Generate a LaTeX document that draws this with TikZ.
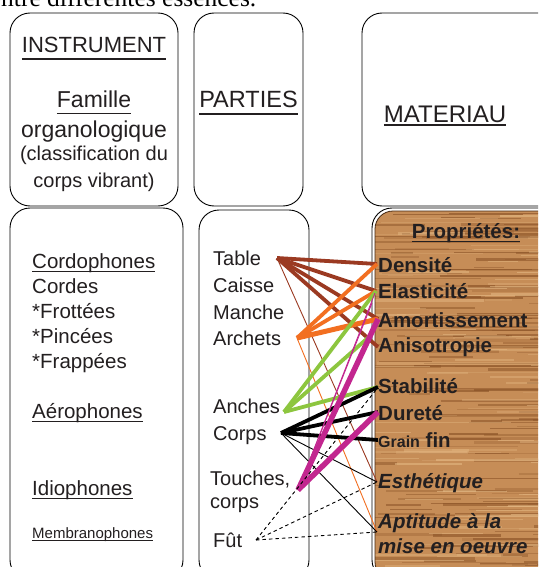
\documentclass[tikz,border=0pt]{standalone}
\usepackage{fontspec}
\setmainfont{Liberation Sans}
\newfontfamily\seriffont{Liberation Serif}
\definecolor{ink}{HTML}{231F20}
\definecolor{cbrown}{HTML}{9B3A22}
\definecolor{corange}{HTML}{F26F21}
\definecolor{cgreen}{HTML}{8DC63F}
\definecolor{cmag}{HTML}{C2268F}
\definecolor{woodbase}{HTML}{C68D57}
\definecolor{wooddark}{HTML}{8A5226}
\definecolor{woodlight}{HTML}{E6BB86}
\newsavebox\ulbox
\newcommand\myul[2][0.25em]{\sbox\ulbox{#2}\rlap{\rule[-#1]{\wd\ulbox}{1.3pt}}\usebox\ulbox}
\newcommand\fs[1]{\fontsize{#1}{#1}\selectfont}
\begin{document}
\begin{tikzpicture}[x=1pt,y=-1pt,
  txt/.style={anchor=base west, inner sep=0pt, text=ink, font=\fs{20}},
  ctxt/.style={anchor=base, inner sep=0pt, text=ink},
  prop/.style={anchor=base west, inner sep=0pt, text=ink, font=\fs{20.5}\bfseries},
  boxline/.style={draw=black, line width=0.9pt, rounded corners=20pt},
  thickl/.style={line width=3.8pt},
  thinl/.style={line width=0.9pt},
  dashl/.style={line width=0.9pt, dash pattern=on 3.5pt off 3pt}]
\useasboundingbox (0,0) rectangle (538,567);
\clip (0,0) rectangle (538,567);
\fill[white] (0,0) rectangle (538,567);

% caption fragment
\node[anchor=base west, inner sep=0pt, font=\seriffont\fs{25.5}] (cap) at (-10.3,7) {entre différentes essences.};

% top boxes
\draw[boxline] (10,13) rectangle (178,206);
\draw[boxline] (194,13) rectangle (303,206);
\draw[boxline] (362,13) rectangle (560,206);
% bottom boxes
\draw[boxline] (10,208) rectangle (183,580);
\draw[boxline] (199,210) rectangle (309,580);
\draw[boxline] (372,208) rectangle (560,580);

% wood texture
\begin{scope}
\clip[rounded corners=18pt] (375,211) rectangle (560,580);
\fill[woodbase] (370,205) rectangle (560,580);
\pgfmathsetseed{12}
\foreach \i in {1,...,170}{
  \pgfmathsetmacro\yy{211+365*rnd}
  \pgfmathsetmacro\xx{350+200*rnd}
  \pgfmathsetmacro\ll{20+150*rnd}
  \pgfmathsetmacro\ww{0.4+2.4*rnd}
  \pgfmathsetmacro\oo{0.2+0.45*rnd}
  \draw[wooddark, opacity=\oo, line width=\ww pt] (\xx,\yy) -- ++(\ll,0);
}
\foreach \i in {1,...,120}{
  \pgfmathsetmacro\yy{211+365*rnd}
  \pgfmathsetmacro\xx{350+200*rnd}
  \pgfmathsetmacro\ll{20+150*rnd}
  \pgfmathsetmacro\ww{0.4+2.0*rnd}
  \pgfmathsetmacro\oo{0.2+0.4*rnd}
  \draw[woodlight, opacity=\oo, line width=\ww pt] (\xx,\yy) -- ++(\ll,0);
}
\end{scope}
\draw[wooddark!50!black, line width=0.8pt, rounded corners=18pt] (375,211) rectangle (560,580);

% top texts
\node[ctxt, font=\fs{22}] (instr) at (94,53) {\myul[0.3em]{INSTRUMENT}};
\node[ctxt, font=\fs{23}] (fam) at (94,108) {\myul[0.28em]{Famille}};
\node[ctxt, font=\fs{23}] (org) at (94,137) {organologique};
\node[ctxt, font=\fs{20}] (cla) at (94,160) {(classification du};
\node[ctxt, font=\fs{20}] (cvb) at (94,187) {corps vibrant)};
\node[ctxt, font=\fs{23.5}] (parties) at (248.5,108) {\myul[0.28em]{PARTIES}};
\node[ctxt, font=\fs{24}] (mat) at (445,122) {\myul[0.15em]{MATERIAU}};

% left column
\node[txt, font=\fs{20.5}] (cordo) at (32,268) {\myul[0.2em]{Cordophones}};
\node[txt, font=\fs{20.5}] (cordes) at (32,293) {Cordes};
\node[txt, font=\fs{20.5}] (frot) at (32,318) {*Frottées};
\node[txt, font=\fs{20.5}] (pinc) at (32,343) {*Pincées};
\node[txt, font=\fs{20.5}] (frap) at (32,368) {*Frappées};
\node[txt, font=\fs{20.5}] (aero) at (32,418) {\myul[0.2em]{Aérophones}};
\node[txt, font=\fs{20.5}] (idio) at (32,495) {\myul[0.2em]{Idiophones}};
\node[txt, font=\fs{15}] (membr) at (32,538) {\myul[0.2em]{Membranophones}};

% middle column
\node[txt] (table) at (213,265) {Table};
\node[txt] (caisse) at (213,292) {Caisse};
\node[txt] (manche) at (213,319) {Manche};
\node[txt] (archets) at (213,345) {Archets};
\node[txt] (anches) at (213,413) {Anches};
\node[txt] (corps) at (213,440) {Corps};
\node[txt] (touches) at (210,485) {Touches,};
\node[txt] (corps2) at (210,508) {corps};
\node[txt] (fut) at (213,547) {Fût};

% right column
\node[ctxt, font=\fs{20.5}\bfseries] (propr) at (466,238) {\myul[0.2em]{Propriétés:}};
\node[prop] (dens) at (378,272) {Densité};
\node[prop] (elas) at (378,298) {Elasticité};
\node[prop] (amor) at (378,327) {Amortissement};
\node[prop] (anis) at (378,352) {Anisotropie};
\node[prop] (stab) at (378,393) {Stabilité};
\node[prop] (dur) at (378,420) {Dureté};
\node[prop] (grain) at (378,447) {{\fs{16}Grain} fin};
\node[prop, font=\fs{20.5}\bfseries\itshape] (esth) at (378,488) {Esthétique};
\node[prop, font=\fs{20.5}\bfseries\itshape] (apt) at (378,528) {Aptitude à la};
\node[prop, font=\fs{20.5}\bfseries\itshape] (mise) at (378,553) {mise en oeuvre};

% connector end points
\coordinate (pT) at (277,258);
\coordinate (pA) at (297,338);
\coordinate (pN) at (284,412);
\coordinate (pC) at (281,433);
\coordinate (pH) at (298,490);
\coordinate (pF) at (256,540);
\coordinate (qDens) at (377,264);
\coordinate (qElas) at (376,291);
\coordinate (qAmor) at (378,319);
\coordinate (qAnis) at (378,347);
\coordinate (qG2) at (370,336);
\coordinate (qM1) at (375,293);
\coordinate (qM2) at (372,303);
\coordinate (qStab) at (378,387);
\coordinate (qStabd) at (376,390);
\coordinate (qDur) at (378,412);
\coordinate (qGrain) at (378,440);
\coordinate (qEsth) at (377,482);
\coordinate (qApt) at (377,532);

% brown (Table)
\draw[cbrown, thickl] (pT) -- (qDens);
\draw[cbrown, thickl] (pT) -- (qElas);
\draw[cbrown, thickl] (pT) -- (qAmor);
\draw[cbrown, thickl] (pT) -- (qAnis);
\draw[cbrown, thinl] (pT) -- (qEsth);
% orange (Archets)
\draw[corange, thickl] (pA) -- (qDens);
\draw[corange, thickl] (pA) -- (qElas);
\draw[corange, line width=5pt] (pA) -- (qAmor);
\draw[corange, thinl] (pA) -- (qApt);
% green (Anches)
\draw[cgreen, thickl] (pN) -- (qElas);
\draw[cgreen, thickl] (pN) -- (qG2);
\draw[cgreen, thickl] (pN) -- (qStab);
% black (Corps)
\draw[black, thickl] (pC) -- (qStab);
\draw[black, thickl] (pC) -- (qDur);
\draw[black, thickl] (pC) -- (qGrain);
\draw[black, thinl] (pC) -- (qEsth);
\draw[black, thinl] (pC) -- (qApt);
% magenta (Touches)
\draw[cmag, line width=5.5pt] (pH) -- (qAmor);
\draw[cmag, line width=5.5pt] (pH) -- (qDur);
\draw[cmag, thinl] (pH) -- (qM1);
\draw[cmag, thinl] (pH) -- (qM2);
% dashed (Fût)
\draw[black, dashl] (pF) -- (qStabd);
\draw[black, dashl] (pF) -- (qEsth);
\draw[black, dashl] (pF) -- (qApt);
\end{tikzpicture}
\end{document}
